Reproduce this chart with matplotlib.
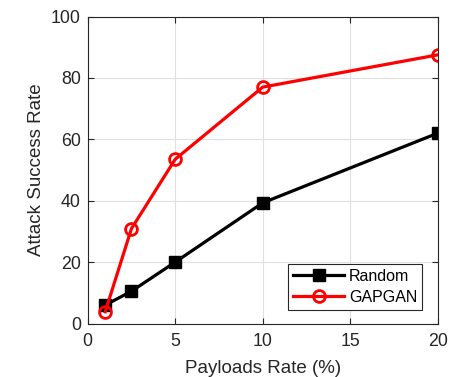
import matplotlib.pyplot as plt

plt.rcParams['font.family'] = ['Liberation Sans', 'DejaVu Sans']

# payload rate (%) and attack success rate for both methods
payload_rate = [1, 2.5, 5, 10, 20]
random_rate = [6, 10.5, 20, 39.3, 62]
gapgan_rate = [3.8, 30.9, 53.5, 77, 87.5]

x_ticks = [0, 5, 10, 15, 20]
y_ticks = [0, 20, 40, 60, 80, 100]

fig = plt.figure(figsize=(4.62, 3.77), dpi=100)
ax = fig.add_axes([87.7 / 462, 1 - 323.5 / 377, 350 / 462, 307 / 377])

ax.plot(payload_rate, random_rate, color='black', linewidth=2.3,
        marker='s', markersize=8, markerfacecolor='black', label='Random')
ax.plot(payload_rate, gapgan_rate, color='red', linewidth=2.3,
        marker='o', markersize=8.5, markerfacecolor='none',
        markeredgewidth=2, label='GAPGAN')

ax.set_xlim(0, 20)
ax.set_ylim(0, 100)
ax.set_xticks(x_ticks)
ax.set_yticks(y_ticks)
ax.tick_params(direction='in', top=True, right=True, labelsize=12.8,
               length=4, width=0.8, colors='#262626')
ax.tick_params(axis='x', pad=7)
ax.tick_params(axis='y', pad=5)
ax.grid(True, color='#e0e0e0', linewidth=0.8)
ax.set_axisbelow(True)
for side in ax.spines.values():
    side.set_color('#262626')
    side.set_linewidth(0.8)

ax.set_xlabel('Payloads Rate (%)', fontsize=13.5, color='#262626', labelpad=7)
ax.set_ylabel('Attack Success Rate', fontsize=13.5, color='#262626', labelpad=4)

leg = ax.legend(loc='lower right', bbox_to_anchor=(0.955, 0.045),
                fontsize=11.5, fancybox=False, framealpha=1,
                edgecolor='#262626', handlelength=3.2, borderpad=0.3,
                labelspacing=0.4, handletextpad=0.3, borderaxespad=0)
leg.get_frame().set_linewidth(0.8)

fig.savefig('out.png', dpi=100)
